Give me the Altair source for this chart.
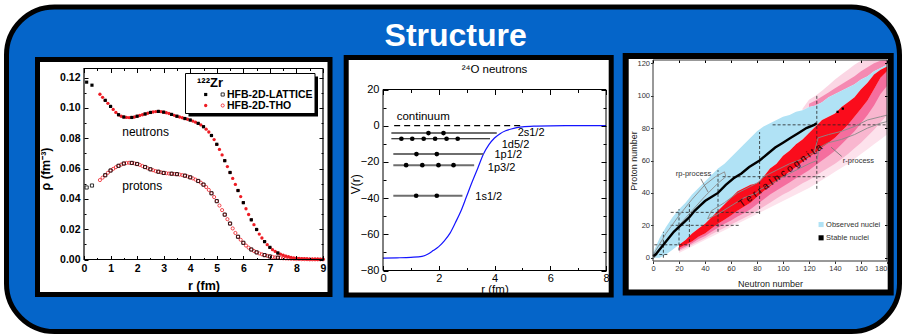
import altair as alt
import numpy as np
import pandas as pd

FONT = "Liberation Sans"
PANEL_BLUE = "#0565c9"
THO_RED = "#ee1c24"

# ---------------- 122Zr densities (HFB-2D-THO / HFB-2D-LATTICE) ----------------
THO_R = [0.6, 0.7, 0.8, 0.9, 1.0, 1.1, 1.2, 1.3, 1.4, 1.5,
         1.6, 1.7, 1.8, 1.9, 2.0, 2.1, 2.2, 2.3, 2.4, 2.5,
         2.6, 2.7, 2.8, 2.9, 3.0, 3.1, 3.2, 3.3, 3.4, 3.5,
         3.6, 3.7, 3.8, 3.9, 4.0, 4.1, 4.2, 4.3, 4.4, 4.5,
         4.6, 4.7, 4.8, 4.9, 5.0, 5.1, 5.2, 5.3, 5.4, 5.5,
         5.6, 5.7, 5.8, 5.9, 6.0, 6.1, 6.2, 6.3, 6.4, 6.5,
         6.6, 6.7, 6.8, 6.9, 7.0, 7.1, 7.2, 7.3, 7.4, 7.5,
         7.6, 7.7, 7.8, 7.9, 8.0, 8.1, 8.2, 8.3, 8.4, 8.5,
         8.6, 8.7, 8.8, 8.9, 9.0]
THO_NEUTRON = [.109, .107, .105, .103, .101, .099, .097, .0955, .0945, .094,
               .0937, .0936, .0937, .094, .0945, .095, .0955, .096, .0965, .097,
               .0973, .0976, .0977, .0975, .0972, .0968, .0963, .0957, .0951, .0945,
               .094, .0935, .093, .0925, .092, .0913, .0906, .0898, .0888, .0876,
               .086, .0841, .0818, .0791, .076, .0726, .069, .0652, .0613, .0574,
               .0535, .0495, .0455, .0415, .0375, .0335, .0297, .0262, .023, .0198,
               .0168, .0142, .0118, .0098, .008, .0065, .0053, .0043, .0035, .0028,
               .0022, .0018, .0014, .0011, .0009, .0007, .0006, .0005, .0004, .0003,
               .00025, .0002, .00015, .0001, .0001]
THO_PROTON = [.0524, .054, .0556, .0572, .0587, .0598, .0609, .0618, .0626, .0633,
              .0637, .0638, .0637, .0634, .063, .0624, .0617, .061, .0602, .0595,
              .0589, .0583, .0579, .0575, .0571, .0569, .0567, .0566, .0564, .0563,
              .056, .0557, .0553, .0548, .0542, .0535, .0527, .0518, .0507, .0494,
              .0478, .0459, .0437, .0412, .0385, .0356, .0326, .0296, .0266, .0237,
              .0205, .0175, .015, .013, .011, .0092, .0078, .0066, .0056, .0047,
              .004, .0034, .0029, .0024, .002, .0017, .0014, .0012, .001, .0008,
              .0007, .0006, .0005, .0004, .0003, .0003, .0002, .0002, .0002, .0001,
              .0001, .0001, .0001, .0001, .0001]
LAT_R = [0.1, 0.3, 0.8, 1.0, 1.3, 1.5, 1.8, 2.0, 2.3, 2.5, 2.8, 3.0, 3.3, 3.5, 3.8,
         4.0, 4.3, 4.5, 4.8, 5.0, 5.3, 5.5, 5.8, 6.0, 6.3, 6.5, 6.8, 7.0, 7.3]
LAT_NEUTRON = [.117, .115, .105, .101, .0955, .094, .0937, .0945, .096, .097, .0977,
               .0972, .0957, .0945, .093, .092, .0898, .0876, .0818, .076, .0652,
               .0574, .0455, .0375, .0262, .0198, .0118, .008, .0043]
LAT_PROTON = [.0475, .0488, .0556, .0587, .0618, .0633, .0637, .063, .061, .0595,
              .0579, .0571, .0566, .0563, .0553, .0542, .0518, .0494, .0437, .0385,
              .0296, .0237, .015, .011, .0066, .0047, .0029, .002, .0012]
CURVE_LABELS = ["neutrons", "protons"]
CURVE_LABEL_R = [1.44, 1.44]
CURVE_LABEL_RHO = [0.0844, 0.0483]
P1_X_LABELS = [0, 1, 2, 3, 4, 5, 6, 7, 8, 9]
P1_Y_LABELS = [0.0, 0.02, 0.04, 0.06, 0.08, 0.10, 0.12]
P1_X_TICKS = [0, 0.5, 1, 1.5, 2, 2.5, 3, 3.5, 4, 4.5, 5, 5.5, 6, 6.5, 7, 7.5, 8, 8.5, 9]
P1_Y_TICKS = [0, 0.01, 0.02, 0.03, 0.04, 0.05, 0.06, 0.07, 0.08, 0.09, 0.10, 0.11, 0.12]

# ---------------- 24O neutron levels in the mean-field potential ----------------
POT_R = [0, 0.5, 1.0, 1.4, 1.6, 1.8, 2.0, 2.2, 2.4, 2.6, 2.8, 3.0, 3.2, 3.4, 3.6,
         3.8, 4.0, 4.2, 4.4, 4.6, 4.8, 5.0, 5.5, 6.0, 7.0, 8.0]
POT_V = [-73.2, -73.0, -72.7, -72.2, -71.0, -69.0, -66.8, -63.6, -59.5, -53.5, -47.0,
         -39.0, -31.0, -23.5, -15.8, -10.5, -6.8, -4.4, -2.8, -1.8, -1.1, -0.6, -0.2,
         -0.05, 0, 0]
LEVEL_NAMES = ["2s1/2", "1d5/2", "1p1/2", "1p3/2", "1s1/2"]
LEVEL_E = [-4.1, -7.2, -15.7, -21.8, -38.7]
LEVEL_R0 = [0.3, 0.3, 0.37, 0.37, 0.37]
LEVEL_R1 = [4.08, 3.84, 3.6, 3.27, 2.85]
LEVEL_LABEL_R = [4.83, 4.26, 4.0, 3.76, 3.31]
LEVEL_LABEL_V = [-3.9, -10.5, -16.3, -23.3, -39.5]
LEVEL_DOTS = {
    "2s1/2": [1.63, 2.17],
    "1d5/2": [0.66, 1.05, 1.46, 1.87, 2.28, 2.68],
    "1p1/2": [1.2, 1.93],
    "1p3/2": [0.83, 1.41, 1.99, 2.53],
    "1s1/2": [1.19, 1.93],
}
CONTINUUM_R = [0.4, 4.95]
CONTINUUM_LABEL = ("continuum", 0.49, 5.0)
P2_X_LABELS = [0, 2, 4, 6, 8]
P2_Y_LABELS = [-80, -60, -40, -20, 0, 20]
P2_X_TICKS = [0, 1, 2, 3, 4, 5, 6, 7, 8]
P2_Y_TICKS = [-80, -70, -60, -50, -40, -30, -20, -10, 0, 10, 20]

# ---------------- chart of nuclides ----------------
N_GRID = [0, 5, 10, 15, 20, 25, 30, 35, 40, 45, 50, 55, 60, 65, 70, 75, 80, 85, 90,
          95, 100, 105, 110, 115, 120, 125, 130, 135, 140, 145, 150, 155, 160, 165,
          170, 175, 180]
nan = np.nan
OBS_HI = [3, 12, 19, 25, 30, 34, 39, 43, 47, 51, 55, 58, 62, 66, 70, 74, 78, 81, 83,
          85, 87, 88, 90, 91, 93, 94, 96, 99, 101, 103, 105, 107, 110, 112, 115, 117, 119]
OBS_LO = [0, 0, 2, 5, 8, 11, 15, 18, 21, 25, 29, 33, 37, 41, 43, 45, 46, 50, 55, 58,
          63, 66, 70, 73, 77, 81, 85, 87, 89, 93, 96, 99, 104, 108, 113, 116, 118]
RED_LO = [nan, nan, nan, nan, 6, 8, 10, 13, 15, 18, 21, 23.5, 26, 29, 31.5, 34, 37.5,
          41, 44, 47, 50, 53, 56, 59, 62, 65, 68, 71, 74, 78, 82, 87, 92, 97, 104, 111, 115]
# pink fringe on the neutron-rich side, from darkest (closest) to faintest
PINK1_LO = [nan, nan, nan, nan, 5, 7, 9, 11.5, 13.5, 16, 18.5, 21, 23, 25.5, 27.5, 30,
            33, 36, 39, 41.5, 44, 46.5, 49, 51.5, 54, 57, 60, 63, 66, 70, 74, 78, 83, 88,
            94, 101, 106]
PINK2_LO = [nan, nan, nan, nan, 4, 6, 8, 10, 12, 14.5, 16.5, 18.5, 20.5, 22.5, 24.5,
            26.5, 29, 31.5, 34, 36.5, 39, 41, 43.5, 46, 48, 50.5, 53, 55.5, 58, 61, 64,
            67.5, 71, 75, 79, 83.5, 88]
PINK3_LO = [nan, nan, nan, nan, 3, 5, 7, 9, 11, 13, 15, 17, 19, 21, 23, 25, 27, 29, 31,
            33, 35, 37, 39, 41, 43, 45.5, 48, 50.5, 53, 55.5, 58, 61, 64, 67, 70, 73, 76]
# pink fringe above the heaviest observed nuclei
ABOVE1_HI = [nan] * 24 + [95, 97, 99.5, 102, 104.5, 107, 109.5, 112, 115, 117.5, 120,
                          121.5, 122]
ABOVE2_HI = [nan] * 23 + [92, 97.5, 100, 103, 106.5, 110, 113, 116, 119, 121.5, 122,
                          122, 122, 122]
VALLEY_N = [0, 2, 4, 6, 8, 10, 12, 14, 16, 20, 24, 28, 32, 36, 40, 44, 50, 56, 62, 68,
            74, 82, 88, 94, 100, 106, 112, 118, 124, 126]
VALLEY_Z = [1, 2, 4, 6, 8, 10, 12, 14, 16, 19, 22, 25, 29, 32, 35, 37, 40, 45, 49, 52,
            56, 60, 64, 68, 71, 74, 77, 80, 82, 83]
LONG_LIVED_N = [142, 146]
LONG_LIVED_Z = [90, 92]
MAGIC_V_N = [8, 20, 28, 50, 82, 126]
MAGIC_V_Z0 = [0, 4.5, 6.6, 16, 27, 42.5]
MAGIC_V_Z1 = [16, 30, 33, 54, 77.5, 101]
MAGIC_H_Z = [2, 8, 20, 28, 50, 82]
MAGIC_H_N0 = [1, 1, 13.6, 13.6, 53.5, 92]
MAGIC_H_N1 = [11, 28, 66, 82, 132, 180]
RP_N = [1, 10, 20, 30, 40, 50, 56, 55, 48, 40, 30, 20, 10, 1, 1]
RP_Z = [0, 10, 20, 29, 38, 46, 50, 53, 50, 45, 36, 26, 15, 3, 0]
RPROC_N = [42, 50, 60, 70, 80, 82, 90, 100, 110, 120, 126, 128, 135, 145, 155, 165, 175,
           180, 180, 175, 165, 155, 145, 135, 127, 124, 115, 105, 95, 85, 82, 75, 65, 55,
           45, 42]
RPROC_Z = [24, 27, 32, 37, 40, 42, 45, 50, 54, 58, 60, 68, 71, 73, 76, 80, 83, 84, 88,
           87, 85, 81, 78, 76, 74, 65, 61, 58, 54, 50, 47, 44, 40, 34, 29, 24]
PROCESS_LABELS = ["rp-process", "r-process"]
PROCESS_LABEL_N = [17.5, 146]
PROCESS_LABEL_Z = [51.4, 59.6]
POINTER_ID = [0, 0, 1, 1]
POINTER_N = [36.8, 42.4, 145.2, 137]
POINTER_Z = [48.7, 40.5, 62.5, 68.2]
LEGEND3_TEXT = ["Observed nuclei", "Stable nuclei"]
LEGEND3_N = [129.3, 129.3]
LEGEND3_Z = [20.5, 12.3]
P3_X_LABELS = [0, 20, 40, 60, 80, 100, 120, 140, 160, 180]
P3_Y_LABELS = [0, 20, 40, 60, 80, 100, 120]

ONE = pd.DataFrame({"k": [0]})


def deco_rect(x, x2, y, y2, **kw):
    return alt.Chart(ONE).mark_rect(**kw).encode(
        x=alt.value(x), x2=alt.value(x2), y=alt.value(y), y2=alt.value(y2))


def deco_text(text, x, y, **kw):
    return alt.Chart(ONE).mark_text(text=text, font=FONT, **kw).encode(
        x=alt.value(x), y=alt.value(y))


def deco_point(x, y, **kw):
    return alt.Chart(ONE).mark_point(**kw).encode(x=alt.value(x), y=alt.value(y))


def size_rule(test, big, small):
    return {"condition": {"test": test, "value": big}, "value": small}


def tick_axis(orient, offset, values, size):
    return alt.Axis(orient=orient, offset=offset, values=values, labels=False,
                    domain=False, grid=False, title=None, ticks=True, zindex=2,
                    tickColor="black", tickWidth=1, tickSize=size)


def inward_ticks(xs, ys, box, view, xvals, yvals, xsize, ysize, sides=("bl", "tr")):
    """Tick marks pointing into the plot box (left, right, top, bottom) of a view (W, H)."""
    left, right, top, bottom = box
    Wv, Hv = view
    df = pd.DataFrame({"tx": [xs.domain[0]], "ty": [ys.domain[0]]})
    out = []
    if "bl" in sides:
        out.append(alt.Chart(df).mark_point(opacity=0).encode(
            x=alt.X("tx:Q", scale=xs, axis=tick_axis("top", -bottom, xvals, xsize)),
            y=alt.Y("ty:Q", scale=ys, axis=tick_axis("right", -(Wv - left), yvals, ysize))))
    if "tr" in sides:
        out.append(alt.Chart(df).mark_point(opacity=0).encode(
            x=alt.X("tx:Q", scale=xs, axis=tick_axis("bottom", -(Hv - top), xvals, xsize)),
            y=alt.Y("ty:Q", scale=ys, axis=tick_axis("left", -right, yvals, ysize))))
    return out


# =============== panel 1: 122Zr densities ===============
PW1, PH1, TOP1 = 239, 191, 8.5          # plot box inside a taller / wider view
VW1, VH1 = 251.3, PH1 + TOP1
x1 = alt.Scale(domain=[0, 9], range=[0, PW1], nice=False, zero=False)
y1 = alt.Scale(domain=[0, 0.126], range=[VH1, TOP1], nice=False, zero=False)

ax1x = alt.Axis(orient="bottom", values=P1_X_LABELS, format="d", ticks=False, tickSize=0,
                domain=False, grid=False, zindex=2, labelFont=FONT, labelFontWeight="bold",
                labelFontSize=10.5, labelColor="black", labelPadding=4, labelFlush=False,
                labelOverlap=False, title="r (fm)", titleFont=FONT, titleFontWeight="bold",
                titleFontSize=12.5, titleColor="black", titleX=PW1 / 2, titleY=26,
                titleBaseline="middle")
ax1y = alt.Axis(orient="left", values=P1_Y_LABELS, format=".2f", ticks=False, tickSize=0,
                domain=False, grid=False, zindex=2, labelFont=FONT, labelFontWeight="bold",
                labelFontSize=10.5, labelColor="black", labelPadding=4, labelFlush=False,
                labelOverlap=False, title="ρ (fm⁻³)", titleFont=FONT, titleFontWeight="bold",
                titleFontSize=12.5, titleColor="black", titleX=-39, titleY=100 + TOP1,
                titleBaseline="middle", titleAngle=270)

df_tho = pd.DataFrame({"r": THO_R, "n": THO_NEUTRON, "p": THO_PROTON})
df_lat = pd.DataFrame({"r": LAT_R, "n": LAT_NEUTRON, "p": LAT_PROTON})
df_lab1 = pd.DataFrame({"t": CURVE_LABELS, "r": CURVE_LABEL_R, "rho": CURVE_LABEL_RHO})

tho_n = alt.Chart(df_tho).mark_point(shape="circle", filled=True, color=THO_RED, size=11,
                                     opacity=1).encode(
    x=alt.X("r:Q", scale=x1, axis=ax1x), y=alt.Y("n:Q", scale=y1, axis=ax1y))
tho_p = alt.Chart(df_tho).mark_point(shape="circle", filled=False, color=THO_RED, size=10,
                                     strokeWidth=0.8, opacity=1).encode(
    x=alt.X("r:Q", scale=x1, axis=None), y=alt.Y("p:Q", scale=y1, axis=None))
lat_n = alt.Chart(df_lat).mark_point(shape="square", filled=True, color="black", size=10,
                                     opacity=1).encode(
    x=alt.X("r:Q", scale=x1, axis=None), y=alt.Y("n:Q", scale=y1, axis=None))
lat_p = alt.Chart(df_lat).mark_point(shape="square", filled=False, color="black", size=10,
                                     strokeWidth=0.8, opacity=1).encode(
    x=alt.X("r:Q", scale=x1, axis=None), y=alt.Y("p:Q", scale=y1, axis=None))
lab1 = alt.Chart(df_lab1).mark_text(align="left", baseline="middle", font=FONT,
                                    fontSize=12, color="black").encode(
    x=alt.X("r:Q", scale=x1, axis=None), y=alt.Y("rho:Q", scale=y1, axis=None), text="t:N")

t1 = TOP1
p1 = alt.layer(
    # rounded blue backdrop of the whole figure
    deco_rect(-77.5, 815.5, -61.5 + t1, 263 + t1, fill=PANEL_BLUE, stroke="black",
              strokeWidth=5, cornerRadius=48),
    deco_rect(-46.5, 246, -9 + t1, 226 + t1, fill="white", stroke="black", strokeWidth=5),
    tho_n, tho_p, lat_n, lat_p, lab1,
    # legend box with drop shadow
    deco_rect(104.5, 234, 8 + t1, 48 + t1, fill="black"),
    deco_rect(101.5, 231, 5 + t1, 45 + t1, fill="white", stroke="black", strokeWidth=1),
    deco_text("¹²²Zr", 113, 14 + t1, align="left", baseline="middle", fontSize=13,
              fontWeight="bold", color="black"),
    deco_point(121.7, 26 + t1, shape="square", filled=True, color="black", size=10,
               opacity=1),
    deco_point(138.7, 26 + t1, shape="square", filled=False, color="black", size=10,
               strokeWidth=0.8, opacity=1),
    deco_text("HFB-2D-LATTICE", 143, 26 + t1, align="left", baseline="middle",
              fontSize=10.5, fontWeight="bold", color="black"),
    deco_point(121.7, 37 + t1, shape="circle", filled=True, color=THO_RED, size=11,
               opacity=1),
    deco_point(138.7, 37 + t1, shape="circle", filled=False, color=THO_RED, size=10,
               strokeWidth=0.8, opacity=1),
    deco_text("HFB-2D-THO", 143, 37 + t1, align="left", baseline="middle", fontSize=10.5,
              fontWeight="bold", color="black"),
    *inward_ticks(x1, y1, (0, PW1, TOP1, VH1), (VW1, VH1), P1_X_TICKS, P1_Y_TICKS,
                  size_rule("abs(datum.value - round(datum.value)) < 0.001", 4, 2),
                  size_rule("abs(datum.value * 50 - round(datum.value * 50)) < 0.001", 4, 2)),
    deco_rect(0, PW1, TOP1, VH1, fillOpacity=0, stroke="black", strokeWidth=1.2),
).resolve_axis(x="independent", y="independent").properties(width=VW1, height=VH1)

# =============== panel 2: 24O levels ===============
PW2, PH2, TOP2 = 223, 181, 29.5
VW2, VH2 = PW2, PH2 + TOP2
x2 = alt.Scale(domain=[0, 8], range=[0, PW2], nice=False, zero=False)
y2 = alt.Scale(domain=[-80, 20], range=[VH2, TOP2], nice=False, zero=False)

ax2x = alt.Axis(orient="bottom", values=P2_X_LABELS, format="d", ticks=False, tickSize=0,
                domain=False, grid=False, zindex=2, labelFont=FONT, labelFontSize=11,
                labelColor="black", labelPadding=2, labelFlush=False, labelOverlap=False,
                title="r (fm)", titleFont=FONT, titleFontWeight="normal", titleFontSize=11.5,
                titleColor="black", titleX=PW2 / 2, titleY=19, titleBaseline="middle")
ax2y = alt.Axis(orient="left", values=P2_Y_LABELS, format="d", ticks=False, tickSize=0,
                domain=False, grid=False, zindex=2, labelFont=FONT, labelFontSize=11,
                labelColor="black", labelPadding=4, labelFlush=False, labelOverlap=False,
                title="V(r)", titleFont=FONT, titleFontWeight="normal", titleFontSize=12,
                titleColor="black", titleX=-27.3, titleY=94.3 + TOP2,
                titleBaseline="middle", titleAngle=270)

df_pot = pd.DataFrame({"r": POT_R, "V": POT_V})
df_lv = pd.DataFrame({"name": LEVEL_NAMES, "E": LEVEL_E, "r0": LEVEL_R0, "r1": LEVEL_R1,
                      "lr": LEVEL_LABEL_R, "lv": LEVEL_LABEL_V})
df_dots = pd.DataFrame([(name, rr, e) for name, e in zip(LEVEL_NAMES, LEVEL_E)
                        for rr in LEVEL_DOTS[name]], columns=["name", "r", "E"])
df_cont = pd.DataFrame({"r0": [CONTINUUM_R[0]], "r1": [CONTINUUM_R[1]], "v": [0.0]})
df_cont_lab = pd.DataFrame({"t": [CONTINUUM_LABEL[0]], "r": [CONTINUUM_LABEL[1]],
                            "v": [CONTINUUM_LABEL[2]]})

is_d52 = alt.datum.name == "1d5/2"
pot = alt.Chart(df_pot).mark_line(color="#1414ff", strokeWidth=1.2,
                                  interpolate="monotone").encode(
    x=alt.X("r:Q", scale=x2, axis=ax2x), y=alt.Y("V:Q", scale=y2, axis=ax2y))
cont = alt.Chart(df_cont).mark_rule(color="black", strokeWidth=1.2,
                                    strokeDash=[6, 4]).encode(
    x=alt.X("r0:Q", scale=x2, axis=None), x2="r1:Q", y=alt.Y("v:Q", scale=y2, axis=None))
cont_lab = alt.Chart(df_cont_lab).mark_text(align="left", baseline="middle", font=FONT,
                                            fontSize=11.5, color="black").encode(
    x=alt.X("r:Q", scale=x2, axis=None), y=alt.Y("v:Q", scale=y2, axis=None), text="t:N")
levels = alt.Chart(df_lv).mark_rule().encode(
    x=alt.X("r0:Q", scale=x2, axis=None), x2="r1:Q",
    y=alt.Y("E:Q", scale=y2, axis=None),
    color=alt.condition(is_d52, alt.value("black"), alt.value("#6e6e6e")),
    strokeWidth=alt.condition(is_d52, alt.value(1.2), alt.value(2)))
dots = alt.Chart(df_dots).mark_circle(color="black", size=22, opacity=1).encode(
    x=alt.X("r:Q", scale=x2, axis=None), y=alt.Y("E:Q", scale=y2, axis=None))
level_lab = alt.Chart(df_lv).mark_text(align="left", baseline="middle", font=FONT,
                                       fontSize=11, color="black").encode(
    x=alt.X("lr:Q", scale=x2, axis=None), y=alt.Y("lv:Q", scale=y2, axis=None),
    text="name:N")

t2 = TOP2
p2 = alt.layer(
    deco_rect(-36.8, 228.2, -32 + t2, 205.5 + t2, fill="white", stroke="black",
              strokeWidth=5),
    deco_text("Structure", 72.7, -44 + t2, align="center", baseline="alphabetic",
              fontSize=32, fontWeight="bold", color="white"),
    deco_text("²⁴O neutrons", 111.5, -20 + t2, align="center", baseline="middle",
              fontSize=11.5, color="black"),
    pot, cont, cont_lab, levels, dots, level_lab,
    *inward_ticks(x2, y2, (0, PW2, TOP2, VH2), (VW2, VH2), P2_X_TICKS, P2_Y_TICKS,
                  size_rule("datum.value % 2 == 0", 5, 3),
                  size_rule("datum.value % 20 == 0", 5, 3)),
    deco_rect(0, PW2, TOP2, VH2, fillOpacity=0, stroke="black", strokeWidth=1),
).resolve_axis(x="independent", y="independent").properties(width=VW2, height=VH2)

# =============== panel 3: chart of nuclides ===============
W3, H3 = 234, 201
x3 = alt.Scale(domain=[0, 180], nice=False, zero=False)
y3 = alt.Scale(domain=[-2, 122], nice=False, zero=False)

ax3x = alt.Axis(orient="bottom", values=P3_X_LABELS, format="d", ticks=True, tickSize=2.5,
                tickColor="#333", domain=False, grid=False, zindex=2, labelFont=FONT,
                labelFontSize=7.5, labelColor="#333", labelPadding=1, labelFlush=False,
                labelAlign={"condition": {"test": "datum.value == 180", "value": "right"},
                            "value": "center"},
                labelOverlap=False, title="Neutron number", titleFont=FONT,
                titleFontWeight="normal", titleFontSize=9, titleColor="#222",
                titleY=22.8, titleBaseline="middle")
ax3y = alt.Axis(orient="left", values=P3_Y_LABELS, format="d", ticks=True, tickSize=2.5,
                tickColor="#333", domain=False, grid=False, zindex=2, labelFont=FONT,
                labelFontSize=7.5, labelColor="#333", labelPadding=1, labelFlush=False,
                labelOverlap=False, title="Proton number", titleFont=FONT,
                titleFontWeight="normal", titleFontSize=9, titleColor="#222",
                titleX=-19.6, titleY=100.5, titleBaseline="middle", titleAngle=270)

df_band = pd.DataFrame({"N": N_GRID, "obs_lo": OBS_LO, "obs_hi": OBS_HI, "red_lo": RED_LO,
                        "p1": PINK1_LO, "p2": PINK2_LO, "p3": PINK3_LO,
                        "a1": ABOVE1_HI, "a2": ABOVE2_HI})
df_valley = pd.DataFrame({"N": VALLEY_N, "Z": VALLEY_Z})
df_ll = pd.DataFrame({"N": LONG_LIVED_N, "Z": LONG_LIVED_Z})
df_mv = pd.DataFrame({"N": MAGIC_V_N, "Z0": MAGIC_V_Z0, "Z1": MAGIC_V_Z1})
df_mh = pd.DataFrame({"Z": MAGIC_H_Z, "N0": MAGIC_H_N0, "N1": MAGIC_H_N1})
df_rp = pd.DataFrame({"N": RP_N, "Z": RP_Z, "o": range(len(RP_N))})
df_rproc = pd.DataFrame({"N": RPROC_N, "Z": RPROC_Z, "o": range(len(RPROC_N))})
df_plab = pd.DataFrame({"t": PROCESS_LABELS, "N": PROCESS_LABEL_N, "Z": PROCESS_LABEL_Z})
df_ptr = pd.DataFrame({"id": POINTER_ID, "N": POINTER_N, "Z": POINTER_Z})
df_leg3 = pd.DataFrame({"t": LEGEND3_TEXT, "N": LEGEND3_N, "Z": LEGEND3_Z,
                        "c": ["#b0e2f5", "black"]})


def X3(field, axis=None):
    return alt.X(field, type="quantitative", scale=x3, axis=axis)


def Y3(field, axis=None):
    return alt.Y(field, type="quantitative", scale=y3, axis=axis)


def band(lo, hi, colour, axis_x=None, axis_y=None):
    d = df_band.dropna(subset=[lo, hi])
    return alt.Chart(d).mark_area(color=colour, opacity=1).encode(
        x=X3("N", axis_x), y=Y3(lo, axis_y), y2=hi)


pink3 = band("p3", "red_lo", "#fde2ec")
pink2 = band("p2", "red_lo", "#f9b6cf")
pink1 = band("p1", "red_lo", "#f56e9e")
above2 = band("obs_hi", "a2", "#fbd6e4")
above1 = band("obs_hi", "a1", "#f58ab2")
observed = band("obs_lo", "obs_hi", "#b0e2f5", ax3x, ax3y)
red = band("red_lo", "obs_lo", "#fa0c1c")

magic_v = alt.Chart(df_mv).mark_rule(color="#222", strokeWidth=0.8,
                                     strokeDash=[3, 2]).encode(
    x=X3("N"), y=Y3("Z0"), y2="Z1")
magic_h = alt.Chart(df_mh).mark_rule(color="#222", strokeWidth=0.8,
                                     strokeDash=[3, 2]).encode(
    y=Y3("Z"), x=X3("N0"), x2="N1")
rp_path = alt.Chart(df_rp).mark_line(color="#8a8a8a", strokeWidth=0.9).encode(
    x=X3("N"), y=Y3("Z"), order="o:Q")
r_path = alt.Chart(df_rproc).mark_line(color="#8a8a8a", strokeWidth=0.9).encode(
    x=X3("N"), y=Y3("Z"), order="o:Q")
valley = alt.Chart(df_valley).mark_line(color="black", strokeWidth=2.4).encode(
    x=X3("N"), y=Y3("Z"))
long_lived = alt.Chart(df_ll).mark_square(color="black", size=5, opacity=1).encode(
    x=X3("N"), y=Y3("Z"))
pointers = alt.Chart(df_ptr).mark_line(color="#777", strokeWidth=0.9).encode(
    x=X3("N"), y=Y3("Z"), detail="id:N")
plabels = alt.Chart(df_plab).mark_text(align="left", baseline="middle", font=FONT,
                                       fontSize=7.5, color="#333").encode(
    x=X3("N"), y=Y3("Z"), text="t:N")
terra = alt.Chart(pd.DataFrame({"t": ["T e r r a   I n c o g n i t a"], "N": [97.9],
                                "Z": [50.7]})).mark_text(
    align="center", baseline="middle", font=FONT, fontSize=10, angle=324,
    color="#2a0000").encode(x=X3("N"), y=Y3("Z"), text="t:N")
leg_sq = alt.Chart(df_leg3).mark_square(size=26, opacity=1).encode(
    x=X3("N"), y=Y3("Z"), color=alt.Color("c:N", scale=None))
leg_tx = alt.Chart(df_leg3).mark_text(align="left", baseline="middle", font=FONT,
                                      fontSize=7.5, color="#333", dx=5).encode(
    x=X3("N"), y=Y3("Z"), text="t:N")

p3 = alt.layer(
    deco_rect(-27.3, 237.7, -4, 232.5, fill="white", stroke="black", strokeWidth=6),
    pink3, pink2, pink1, above2, above1, observed, red,
    magic_v, magic_h, rp_path, r_path, valley, long_lived,
    pointers, plabels, terra, leg_sq, leg_tx,
    *inward_ticks(x3, y3, (0, W3, 0, H3), (W3, H3), P3_X_LABELS, P3_Y_LABELS, 2.5, 2.5,
                  sides=("tr",)),
    deco_rect(0, W3, 0, H3, fillOpacity=0, stroke="#333", strokeWidth=1),
).resolve_axis(x="independent", y="independent").properties(width=W3, height=H3)

chart = alt.hconcat(p1, p2, p3, spacing=47, bounds="flush").properties(
    padding={"left": 4, "top": 4, "right": 0, "bottom": 0},
    background="white",
).configure_view(strokeWidth=0)

chart.save("out.html", embed_options={"renderer": "svg", "actions": False})
